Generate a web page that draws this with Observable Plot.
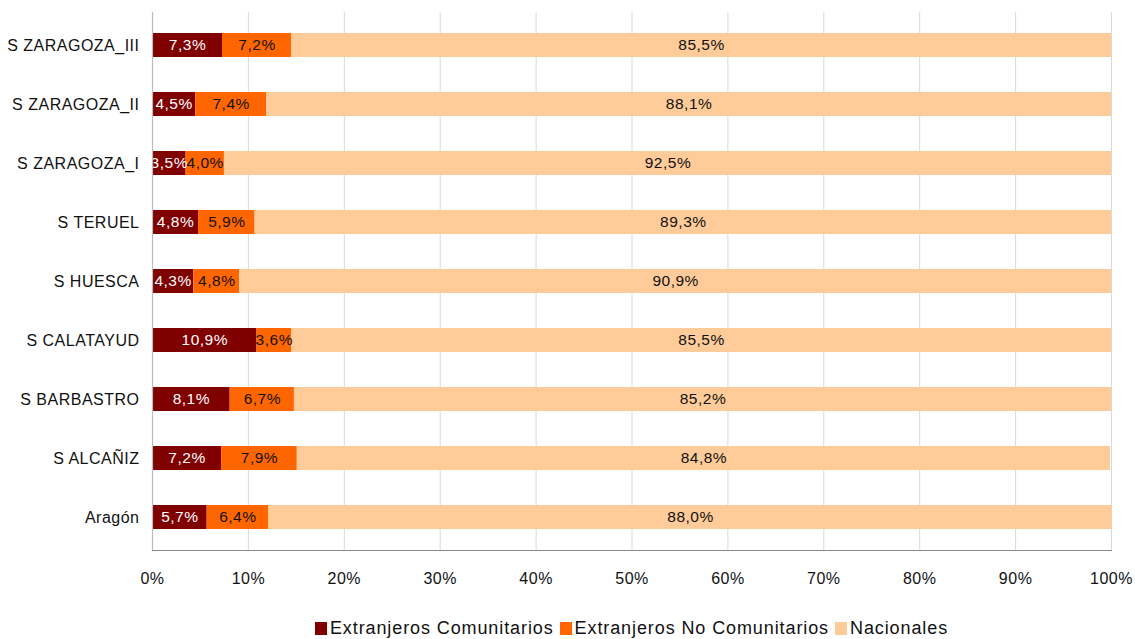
<!DOCTYPE html>
<html>
<head>
<meta charset="utf-8">
<script src="https://cdn.jsdelivr.net/npm/d3@7"></script>
<script src="https://cdn.jsdelivr.net/npm/@observablehq/plot@0.6"></script>
<style>
  body { margin: 0; background: #fff; font-family: "Liberation Sans", Arial, sans-serif; }
  #legend { display: flex; justify-content: center; align-items: center; gap: 6px; font-size: 18px; letter-spacing: 0.9px; color: #111; margin-top: 16px; padding-left: 128px; }
  #legend .item { display: flex; align-items: center; gap: 3px; }
  #legend .sw { width: 12px; height: 13px; display: inline-block; }
</style>
</head>
<body>
<div id="chart"></div>
<div id="legend"></div>
<script>
const regions = ["S ZARAGOZA_III", "S ZARAGOZA_II", "S ZARAGOZA_I", "S TERUEL", "S HUESCA", "S CALATAYUD", "S BARBASTRO", "S ALCAÑIZ", "Aragón"];
const series = ["Extranjeros Comunitarios", "Extranjeros No Comunitarios", "Nacionales"];
const comunitarios =   [7.3, 4.5, 3.5, 4.8, 4.3, 10.9, 8.1, 7.2, 5.7];
const noComunitarios = [7.2, 7.4, 4.0, 5.9, 4.8, 3.6, 6.7, 7.9, 6.4];
const nacionales =     [85.5, 88.1, 92.5, 89.3, 90.9, 85.5, 85.2, 84.8, 88.0];
const colors = ["#800000", "#FF6600", "#FFCC99"];
const labelColors = ["#ffffff", "#111111", "#111111"];
const xTicks = [0, 10, 20, 30, 40, 50, 60, 70, 80, 90, 100];

const seriesValues = [comunitarios, noComunitarios, nacionales];
const data = [];
regions.forEach((r, i) => {
  series.forEach((s, j) => {
    data.push({region: r, series: s, value: seriesValues[j][i], si: j});
  });
});

const fmt = v => v.toFixed(1).replace(".", ",") + "%";

const chart = Plot.plot({
  width: 1135,
  height: 602,
  marginLeft: 152,
  marginRight: 24,
  marginTop: 12,
  marginBottom: 52,
  style: { fontFamily: "'Liberation Sans', Arial, sans-serif", fontSize: "16px", letterSpacing: "0.5px", color: "#111" },
  x: { domain: [0, 100], ticks: xTicks, tickFormat: d => d + "%", tickSize: 0, tickPadding: 22, label: null },
  y: { domain: regions, paddingInner: 0.6, paddingOuter: 0.3, tickSize: 0, tickPadding: 13, label: null },
  color: { domain: series, range: colors },
  marks: [
    Plot.ruleX(xTicks.slice(1), { stroke: "#d9d9d9", strokeWidth: 1 }),
    Plot.barX(data, Plot.stackX({ x: "value", y: "region", fill: "series", order: series })),
    Plot.text(data, Plot.stackX({
      x: "value", y: "region", z: "series", order: series,
      text: d => fmt(d.value),
      fill: d => labelColors[d.si],
      fontSize: 15.5
    })),
    Plot.ruleX([0], { stroke: "#bbbbbb", strokeWidth: 1.2 }),
    Plot.frame({ anchor: "bottom", stroke: "#888", strokeDasharray: "2,1" })
  ]
});
document.getElementById("chart").appendChild(chart);

const legend = document.getElementById("legend");
series.forEach((s, j) => {
  const it = document.createElement("span");
  it.className = "item";
  const sw = document.createElement("span");
  sw.className = "sw";
  sw.style.background = colors[j];
  const tx = document.createElement("span");
  tx.textContent = s;
  it.appendChild(sw);
  it.appendChild(tx);
  legend.appendChild(it);
});
</script>
</body>
</html>
